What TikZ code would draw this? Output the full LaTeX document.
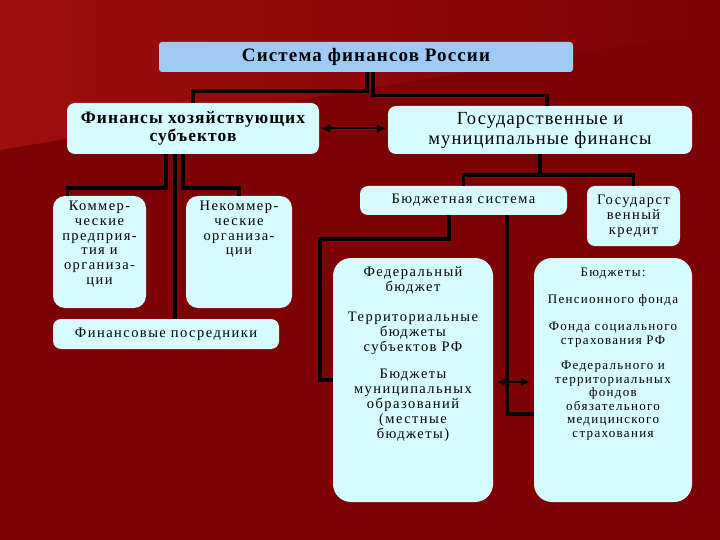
\documentclass[tikz,border=0pt]{standalone}
\usepackage{fontspec}
\setmainfont{Liberation Serif}[LetterSpace=6]
\usetikzlibrary{arrows.meta}
\definecolor{bgdark}{RGB}{124,2,4}
\definecolor{bglight}{RGB}{158,14,16}
\definecolor{boxc}{RGB}{214,252,255}
\definecolor{headc}{RGB}{158,202,244}
\newcommand{\toptext}[3]{\parbox[c][#1][t]{#2}{\centering #3}}

\begin{document}
\begin{tikzpicture}[x=1pt,y=-1pt,>=Latex,
  box/.style={fill=boxc,rounded corners=8pt,inner sep=0pt,align=center,font=\fontsize{14.5}{14.8}\selectfont\addfontfeature{LetterSpace=10}},
  topbox/.style={box,inner ysep=5pt,rounded corners=12pt},
  conn/.style={line width=3.2pt,black},
  link/.style={line width=2pt,black,{Latex[length=9pt,width=9pt]}-{Latex[length=9pt,width=9pt]}}]
\useasboundingbox (0,0) rectangle (720,540);
\fill[bgdark] (0,0) rectangle (720,540);
\shade[left color=bglight,right color=bgdark] (0,0) -- (720,0) -- (720,30) -- (0,150) -- cycle;
% top
\node[box,fill=headc,rounded corners=3pt,minimum width=414,minimum height=30,font=\fontsize{19}{20}\selectfont\bfseries] (sys) at (366,57) {Система финансов России};
\node[box,minimum width=252,minimum height=51,font=\fontsize{17.5}{18}\selectfont\bfseries] (hoz) at (193,128.5) {Финансы хозяйствующих\\субъектов};
\node[box,minimum width=304,minimum height=48,font=\fontsize{18.5}{20}\selectfont] (gos) at (540,130) {Государственные и\\муниципальные финансы};
% left side
\node[topbox] (kom) at (99.5,252) {\toptext{102pt}{93pt}{Коммер-\\ческие\\предприя-\\тия и\\организа-\\ции}};
\node[topbox] (nekom) at (239,252) {\toptext{102pt}{106pt}{Некоммер-\\ческие\\организа-\\ции}};
\node[box,minimum width=226,minimum height=30] (posr) at (166,334) {Финансовые посредники};
% right side
\node[box,minimum width=207,minimum height=29] (bsys) at (463.5,200.5) {Бюджетная система};
\node[box,minimum width=93,minimum height=60] (gkr) at (633.5,216) {Государст\\венный\\кредит};
\node[topbox,rounded corners=18pt,inner ysep=9pt] (fed) at (413,380) {\toptext{226pt}{160pt}{Федеральный\\бюджет\\[15pt]Территориальные\\бюджеты\\субъектов РФ\\[13pt]Бюджеты\\муниципальных\\образований\\(местные\\бюджеты)}};
\node[topbox,rounded corners=18pt,inner ysep=10pt,font=\fontsize{13}{13.5}\selectfont\addfontfeature{LetterSpace=10}] (bud) at (613,380) {\toptext{224pt}{158pt}{Бюджеты:\\[13pt]Пенсионного фонда\\[14pt]Фонда социального\\страхования РФ\\[12pt]Федерального и\\территориальных\\фондов\\обязательного\\медицинского\\страхования}};
% connectors
\coordinate (t1) at (367,91);
\coordinate (t2) at (373,95.5);
\draw[conn] (sys.south -| t1) -- (t1) -| (hoz.north);
\draw[conn] (sys.south -| t2) -- (t2) -| ([xshift=7pt]gos.north);
\draw[link,shorten <=2pt,shorten >=2pt] (hoz.east) -- (gos.west |- hoz.east);
\coordinate (h1) at (166,188);
\coordinate (h2) at (175,300);
\coordinate (h3) at (183,188);
\draw[conn] (hoz.south -| h1) -- (h1) -| ([xshift=-32pt]kom.north);
\draw[conn] (hoz.south -| h2) -- (posr.north -| h2);
\draw[conn] (hoz.south -| h3) -- (h3) -| (nekom.north);
\coordinate (g1) at (540,175);
\draw[conn] (gos.south) -- (g1);
\draw[conn] (bsys.north) |- (g1) -| (gkr.north);
\coordinate (b0) at (449,239);
\coordinate (b1) at (320,239);
\coordinate (b2) at (507,414);
\draw[conn] (bsys.south -| b0) -- (b0) -- (b1) |- (fed.west);
\draw[conn] (bsys.south -| b2) -- (b2) -- (bud.west |- b2);
\draw[link,shorten <=4pt,shorten >=4pt] ([yshift=-2pt]fed.east) -- ([yshift=-2pt]bud.west);
\end{tikzpicture}
\end{document}
